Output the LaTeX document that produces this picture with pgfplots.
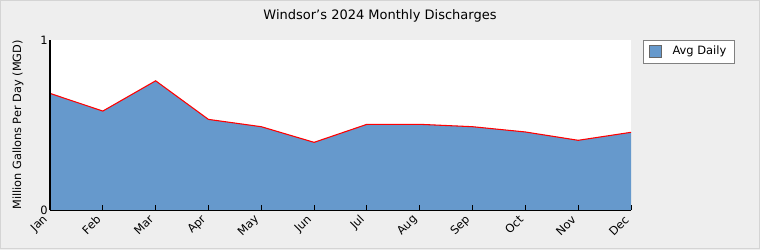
\documentclass[border=0pt]{standalone}
\usepackage{fontspec}
\setmainfont{DejaVu Sans}
\usepackage{pgfplots}
\pgfplotsset{compat=1.18}
\definecolor{bg}{HTML}{EEEEEE}
\definecolor{bordergray}{HTML}{D4D4D4}
\definecolor{areablue}{HTML}{6699CC}
\begin{document}
\begin{tikzpicture}[x=0.75pt,y=0.75pt]
\fill[bg] (-50,-40) rectangle (710,210);
\draw[bordergray, line width=0.75pt] (-49.5,-38.5) rectangle (709,209.5);
\useasboundingbox (-50,-40) rectangle (710,210);
\begin{axis}[
  at={(0,0)}, anchor=south west,
  scale only axis, width=435.75pt, height=127.5pt,
  xmin=0, xmax=11, ymin=0, ymax=1,
  axis background/.style={fill=white},
  axis x line*=bottom, axis y line*=left,
  x axis line style={black, line width=0.75pt, -},
  y axis line style={black, line width=1.1pt, -},
  axis on top,
  xtick={0,...,11},
  xticklabels={Jan,Feb,Mar,Apr,May,Jun,Jul,Aug,Sep,Oct,Nov,Dec},
  ytick={0,1},
  tick align=inside,
  major tick length=4pt,
  x tick style={black, line width=0.75pt},
  y tick style={draw=none},
  /pgf/number format/assume math mode=true,
  xticklabel style={font=\fontsize{8.6}{9}\selectfont, rotate=45, anchor=east, inner sep=1pt, xshift=-5.2pt, yshift=-1.8pt},
  yticklabel style={font=\fontsize{8.6}{9}\selectfont, inner sep=1.5pt},
  ylabel={Million Gallons Per Day (MGD)},
  ylabel style={font=\fontsize{8.5}{9}\selectfont, at={(axis description cs:-0.055,0.5)}, anchor=center},
  title={Windsor's 2024 Monthly Discharges},
  title style={font=\fontsize{9.75}{11}\selectfont, at={(axis description cs:0.568,1.094)}, anchor=center},
  legend style={at={(axis description cs:1.0207,1)}, anchor=north west, draw=gray, fill=white,
    font=\fontsize{8.6}{9}\selectfont, inner xsep=4pt, inner ysep=2.5pt, legend cell align=left},
  legend image code/.code={\fill[areablue, draw=gray!80!black, line width=0.4pt] (0pt,-4.5pt) rectangle (9pt,4.5pt);},
]
\addplot[fill=areablue, draw=none] coordinates {
(0,0.686) (1,0.582) (2,0.76) (3,0.533) (4,0.49) (5,0.398)
(6,0.504) (7,0.504) (8,0.49) (9,0.459) (10,0.41) (11,0.457)
} \closedcycle;
\addlegendentry{\hspace{6.5pt}Avg Daily\hspace{6pt}}
\addplot[red, line width=0.8pt, forget plot] coordinates {
(0,0.686) (1,0.582) (2,0.76) (3,0.533) (4,0.49) (5,0.398)
(6,0.504) (7,0.504) (8,0.49) (9,0.459) (10,0.41) (11,0.457)
};
\end{axis}
\end{tikzpicture}
\end{document}
